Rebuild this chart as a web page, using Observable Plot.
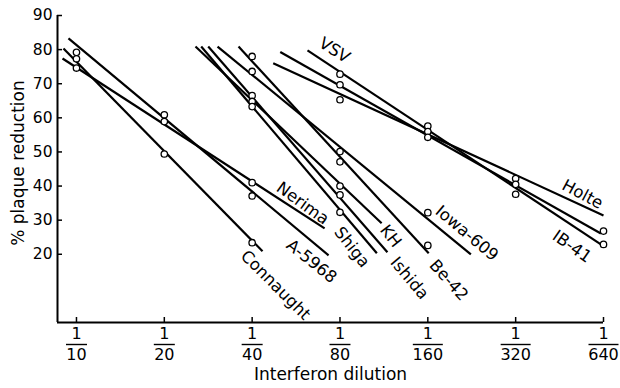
<!DOCTYPE html>
<html><head><meta charset="utf-8">
<script src="https://cdn.jsdelivr.net/npm/d3@7"></script>
<script src="https://cdn.jsdelivr.net/npm/@observablehq/plot@0.6"></script>
<style>
body{margin:0;background:#fff}
#chart{width:620px;height:388px}
</style>
</head><body><div id="chart"></div>
<script>
// x positions: log2 steps of dilution (0 = 1/10, 1 = 1/20, ... 6 = 1/640)
const xTicks = [0, 1, 2, 3, 4, 5, 6];
const xTickDenominators = ["10", "20", "40", "80", "160", "320", "640"];
const yTicks = [20, 30, 40, 50, 60, 70, 80, 90];
const xTitle = "Interferon dilution";
const yTitle = "% plaque reduction";

// fitted lines (endpoints)
const lineNames = ["Connaught", "A-5968", "Nerima", "Shiga", "KH", "Ishida", "Be-42", "Iowa-609", "VSV", "IB-41", "Holte"];
const lineX1 = [-0.148, -0.091, -0.159, 1.42, 1.355, 1.50, 1.845, 1.606, 2.63, 2.32, 2.24];
const lineY1 = [80.3, 83.3, 77.4, 80.9, 80.9, 80.9, 80.9, 80.9, 79.8, 79.3, 76.0];
const lineX2 = [2.118, 2.87, 2.825, 3.42, 3.474, 3.54, 4.01, 4.49, 6.0, 5.97, 6.0];
const lineY2 = [20.9, 19.7, 27.6, 20.3, 29.1, 20.6, 20.3, 20.0, 22.4, 26.1, 31.4];

// observed points
const pointX = [0,0,0, 1,1,1, 2,2,2,2,2,2,2,2, 3,3,3,3,3,3,3,3, 4,4,4,4,4, 5,5,5, 6,6];
const pointY = [79.2,77.3,74.6, 60.9,58.9,49.4, 41.0,37.1,23.4,78.0,73.6,66.5,64.8,63.3,
                50.1,47.1,40.0,37.4,32.3,72.8,69.7,65.3, 57.6,56.0,54.3,32.2,22.6,
                42.2,40.5,37.6, 26.8,22.9];

// label placement styles (pixel offsets from a line end)
const labelStyle = [
  {name: "Connaught", at: "end", dx: 13, dy: 34, rotate: 45},
  {name: "A-5968", at: "end", dx: -17, dy: 6, rotate: 39},
  {name: "Nerima", at: "end", dx: -22, dy: -25, rotate: 36},
  {name: "Shiga", at: "end", dx: -25, dy: -6, rotate: 52},
  {name: "KH", at: "end", dx: 9, dy: 13, rotate: 52},
  {name: "Ishida", at: "end", dx: 22, dy: 26, rotate: 50},
  {name: "Be-42", at: "end", dx: 20, dy: 27, rotate: 48},
  {name: "Iowa-609", at: "end", dx: -4, dy: -21, rotate: 40},
  {name: "VSV", at: "start", dx: 27, dy: 0, rotate: 32},
  {name: "Holte", at: "end", dx: -21, dy: -21, rotate: 28},
  {name: "IB-41", at: "end", dx: -29, dy: 13, rotate: 35}
];

const lines = lineNames.map((name, i) => ({name, x1: lineX1[i], y1: lineY1[i], x2: lineX2[i], y2: lineY2[i]}));
const points = pointX.map((x, i) => ({x, y: pointY[i]}));
const xMin = -0.216, xMax = 6, yMin = 0, yMax = 90;

const W = 620, H = 388, mL = 57, mR = 17, mT = 15, mB = 66;
const frameW = W - mL - mR, frameH = H - mT - mB;
const pxPerStep = frameW / (xMax - xMin);
const barHalf = s => (s.length === 2 ? 10.5 : 15) / pxPerStep; // fraction bar half-width

const labelMarks = labelStyle.map(s => {
  const l = lines.find(d => d.name === s.name);
  return Plot.text([l], {
    x: s.at === "end" ? "x2" : "x1",
    y: s.at === "end" ? "y2" : "y1",
    text: "name", dx: s.dx, dy: s.dy, rotate: s.rotate,
    fontSize: 16.5, fill: "black"
  });
});

const chart = Plot.plot({
  width: W, height: H,
  marginLeft: mL, marginRight: mR, marginTop: mT, marginBottom: mB,
  style: {fontFamily: "DejaVu Sans", fontSize: "15px", color: "black", background: "white"},
  x: {domain: [xMin, xMax], axis: null},
  y: {domain: [yMin, yMax], axis: null},
  marks: [
    Plot.ruleX([xMin], {y1: yMin, y2: yMax, stroke: "black", strokeWidth: 2}),
    Plot.ruleY([yMin], {x1: xMin, x2: xMax, stroke: "black", strokeWidth: 2}),
    // inward ticks
    Plot.tickY(yTicks, {y: d => d, insetRight: frameW - 5, stroke: "black", strokeWidth: 1.5}),
    Plot.tickX(xTicks, {x: d => d, insetTop: frameH - 5, stroke: "black", strokeWidth: 1.5}),
    Plot.axisY(yTicks, {tickSize: 0, tickPadding: 5, fontSize: 15.5}),
    // fraction tick labels
    Plot.text(xTicks, {x: d => d, frameAnchor: "bottom", lineAnchor: "middle", dy: 11, text: () => "1", fontSize: 16, fill: "black"}),
    Plot.link(xTicks, {x1: (d, i) => d - barHalf(xTickDenominators[i]), x2: (d, i) => d + barHalf(xTickDenominators[i]),
                       y1: () => yMin, y2: () => yMin, dy: 22, stroke: "black", strokeWidth: 1.4}),
    Plot.text(xTicks, {x: d => d, frameAnchor: "bottom", lineAnchor: "middle", dy: 32, text: (d, i) => xTickDenominators[i], fontSize: 16, fill: "black"}),
    Plot.text([xTitle], {frameAnchor: "bottom", lineAnchor: "middle", textAnchor: "middle", dy: 52, text: d => d, fontSize: 17, fill: "black"}),
    Plot.text([yTitle], {frameAnchor: "left", textAnchor: "middle", lineAnchor: "middle", dx: -39, dy: -6, rotate: -90, text: d => d, fontSize: 17, fill: "black"}),
    Plot.link(lines, {x1: "x1", y1: "y1", x2: "x2", y2: "y2", stroke: "black", strokeWidth: 2.2}),
    Plot.dot(points, {x: "x", y: "y", r: 3.2, fill: "white", stroke: "black", strokeWidth: 1.3}),
    ...labelMarks
  ]
});
document.getElementById("chart").appendChild(chart);
</script>
</body></html>
